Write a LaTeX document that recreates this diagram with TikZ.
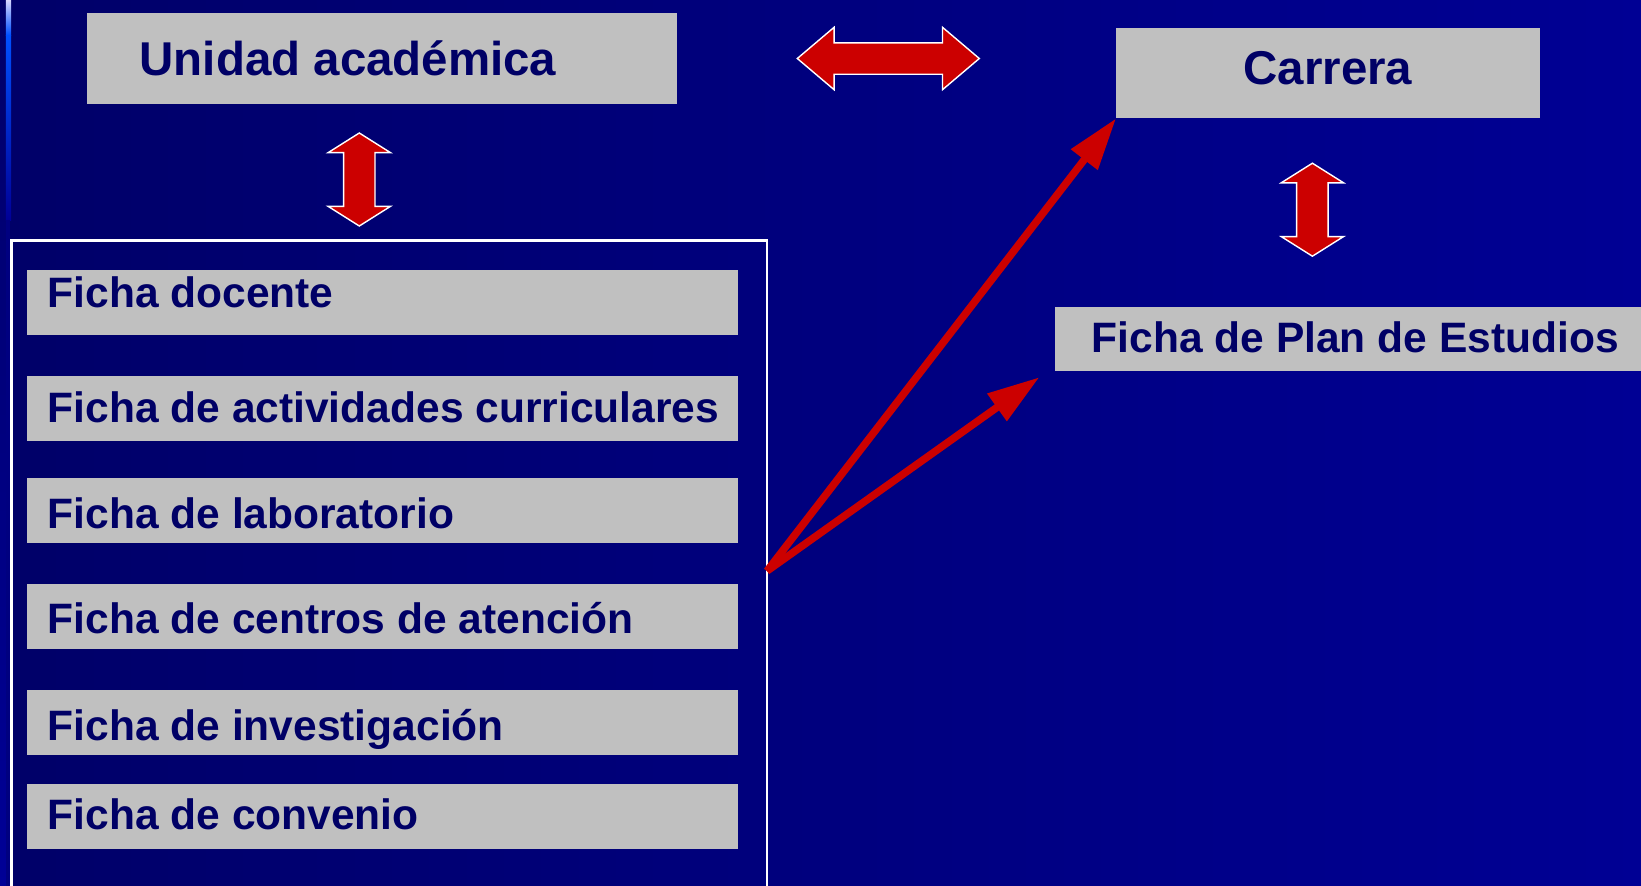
\documentclass[tikz,border=0pt]{standalone}
\usepackage{fontspec}
\setmainfont{Liberation Sans}
\usepackage{xcolor}
\usepackage{tikz}
\usetikzlibrary{arrows.meta,shapes.arrows}
\definecolor{bgleft}{RGB}{0,0,104}
\definecolor{bgright}{RGB}{0,0,148}
\definecolor{boxgray}{RGB}{192,192,192}
\definecolor{navytext}{RGB}{0,0,102}
\definecolor{arrowred}{RGB}{204,0,0}
\tikzstyle{arrow} = [-{Triangle[length=0.52cm, width=0.32cm]}, line width=0.075cm, draw=arrowred]
\tikzstyle{bigbox} = [fill=boxgray, anchor=north west, inner sep=0pt, outer sep=0pt, minimum height=0.905cm]
\tikzstyle{fichabox} = [fill=boxgray, anchor=north west, inner sep=0pt, outer sep=0pt, minimum width=7.11cm, minimum height=0.645cm]
\tikzstyle{bigtext} = [text=navytext, font=\fontsize{13.5}{16}\selectfont\bfseries, inner sep=0pt]
\tikzstyle{fichatext} = [text=navytext, font=\fontsize{12.1}{14}\selectfont\bfseries, inner sep=0pt, anchor=base west]
\tikzstyle{dblarrow} = [double arrow, fill=arrowred, draw=white, line width=0.4pt, inner xsep=0pt, inner ysep=0.15cm, double arrow head extend=0.155cm]

\begin{document}
\begin{tikzpicture}
		\useasboundingbox (0,0) rectangle (16.41,-8.86);
		\shade [left color=bgleft, right color=bgright] (0,0) rectangle (16.41,-8.86);
		\shade [top color=bgleft, bottom color={rgb,255:red,0;green,0;blue,150}] (0,0) rectangle (0.06,-8.86);
		\shade [top color={rgb,255:red,215;green,215;blue,255}, bottom color={rgb,255:red,0;green,80;blue,255}] (0.06,0) rectangle (0.11,-0.35);
		\shade [top color={rgb,255:red,0;green,80;blue,255}, bottom color={rgb,255:red,0;green,0;blue,150}] (0.06,-0.35) rectangle (0.11,-2.2);
		\fill [color={rgb,255:red,0;green,0;blue,128}] (0.06,-2.2) rectangle (0.10,-8.86);

		\node (frame) [draw=white, line width=0.024cm, anchor=north west, inner sep=0pt, outer sep=0pt, minimum width=7.557cm, minimum height=6.61cm] at (0.113,-2.405) {};

		\node (ua) [bigbox, minimum width=5.90cm] at (0.87,-0.135) {};
		\node (uatext) [bigtext, anchor=base west] at ([xshift=0.52cm, yshift=-0.167cm]ua.west) {Unidad académica};
		\node (car) [bigbox, minimum width=4.24cm] at (11.16,-0.28) {};
		\node (cartext) [bigtext, anchor=base] at ([yshift=-0.117cm]car.center) {Carrera};
		\node (fpe) [fichabox, minimum width=5.9cm] at (10.55,-3.066) {};
		\node (fpetext) [fichatext] at ([xshift=0.36cm, yshift=-0.133cm]fpe.west) {Ficha de Plan de Estudios};

		\node (fdoc) [fichabox] at (0.27,-2.70) {};
		\node (fdoctext) [fichatext] at ([xshift=0.2cm, yshift=-0.051cm]fdoc.west) {Ficha docente};
		\node (fact) [fichabox] at (0.27,-3.76) {};
		\node (facttext) [fichatext] at ([xshift=0.2cm, yshift=-0.138cm]fact.west) {Ficha de actividades curriculares};
		\node (flab) [fichabox] at (0.27,-4.783) {};
		\node (flabtext) [fichatext] at ([xshift=0.2cm, yshift=-0.178cm]flab.west) {Ficha de laboratorio};
		\node (fcen) [fichabox] at (0.27,-5.84) {};
		\node (fcentext) [fichatext] at ([xshift=0.2cm, yshift=-0.168cm]fcen.west) {Ficha de centros de atención};
		\node (finv) [fichabox] at (0.27,-6.90) {};
		\node (finvtext) [fichatext] at ([xshift=0.2cm, yshift=-0.182cm]finv.west) {Ficha de investigación};
		\node (fconv) [fichabox] at (0.27,-7.84) {};
		\node (fconvtext) [fichatext] at ([xshift=0.2cm, yshift=-0.137cm]fconv.west) {Ficha de convenio};

		\node (uacar) [dblarrow, minimum height=1.82cm, double arrow tip angle=80.6] at (8.883,-0.585) {};
		\node (uafichas) [dblarrow, rotate=90, minimum height=0.93cm, double arrow tip angle=115.6] at (3.593,-1.795) {};
		\node (carfpe) [dblarrow, rotate=90, minimum height=0.93cm, double arrow tip angle=115.6] at (13.124,-2.097) {};

		\coordinate (fpetip) at ([xshift=-0.157cm, yshift=-0.062cm]fpe.south west);
		\draw [arrow] (frame.east) -- (car.south west);
		\draw [arrow] (frame.east) -- (fpetip);
	\end{tikzpicture}
\end{document}
